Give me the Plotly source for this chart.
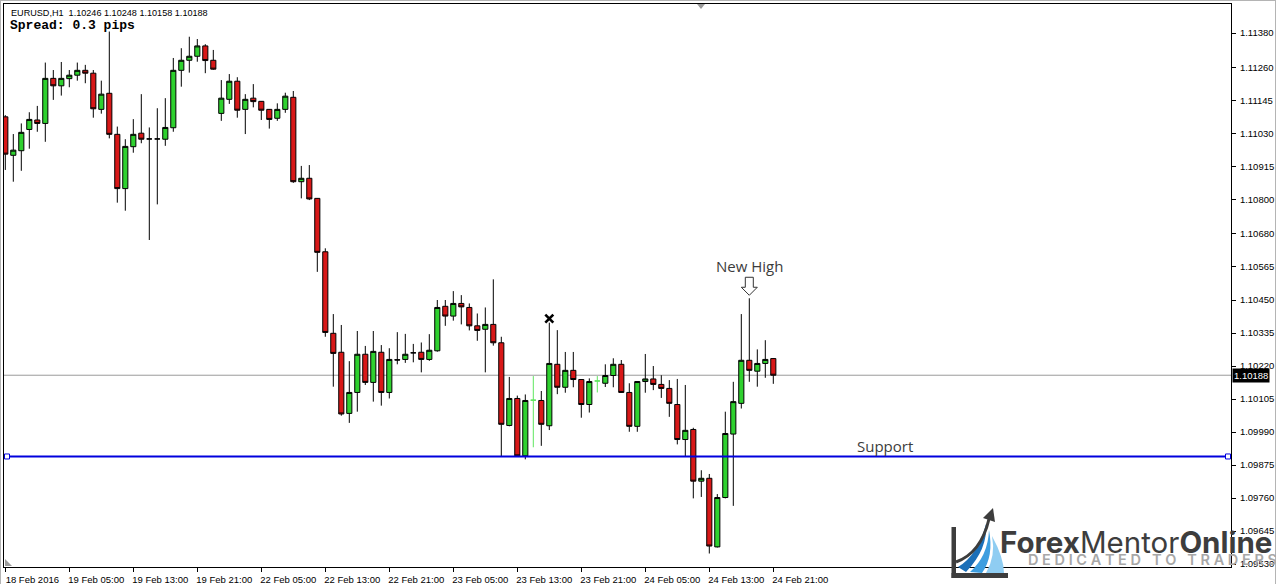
import plotly.graph_objects as go

# ---- EURUSD H1 candles (bar 0 = 18 Feb 2016 21:00) ----
opens = [1.11088, 1.10954, 1.10970, 1.11044, 1.11077, 1.11065, 1.11222, 1.11196, 1.11221, 1.11233,
         1.11250, 1.11240, 1.11114, 1.11170, 1.11027, 1.10838, 1.10984, 1.11031, 1.11011, 1.11011,
         1.11010, 1.11050, 1.11250, 1.11285, 1.11299, 1.11335, 1.11285, 1.11100, 1.11149, 1.11212,
         1.11114, 1.11153, 1.11142, 1.11114, 1.11083, 1.11114, 1.11156, 1.10862, 1.10874, 1.10804,
         1.10618, 1.10334, 1.10268, 1.10055, 1.10128, 1.10261, 1.10163, 1.10268, 1.10128, 1.10242,
         1.10243, 1.10266, 1.10268, 1.10243, 1.10273, 1.10428, 1.10394, 1.10438, 1.10424, 1.10360,
         1.10348, 1.10365, 1.10301, 1.10013, 1.10107, 1.09907, None, 1.10100, 1.10012, 1.10226,
         1.10146, 1.10205, 1.10173, 1.10086, None, 1.10160, 1.10187, 1.10226, 1.10128, 1.10010,
         1.10166, 1.10175, 1.10156, 1.10142, 1.10086, 1.09964, 1.09999, 1.09819, 1.09829, 1.09590,
         1.09762, 1.09983, 1.10090, 1.10240, 1.10202, 1.10229, 1.10246]
highs = [1.11094, 1.11028, 1.11065, 1.11104, 1.11126, 1.11277, 1.11251, 1.11279, 1.11251, 1.11277,
         1.11269, 1.11251, 1.11214, 1.11385, 1.11054, 1.11010, 1.11080, 1.11167, 1.11051, 1.11118,
         1.11153, 1.11293, 1.11327, 1.11367, 1.11359, 1.11341, 1.11321, 1.11216, 1.11237, 1.11226,
         1.11167, 1.11202, 1.11143, 1.11115, 1.11135, 1.11172, 1.11178, 1.10917, 1.10920, 1.10805,
         1.10630, 1.10401, 1.10363, 1.10237, 1.10342, 1.10290, 1.10342, 1.10293, 1.10282, 1.10338,
         1.10332, 1.10297, 1.10302, 1.10331, 1.10450, 1.10450, 1.10481, 1.10467, 1.10438, 1.10403,
         1.10424, 1.10522, 1.10322, 1.10182, 1.10117, 1.10121, None, 1.10133, 1.10371, 1.10345,
         1.10269, 1.10269, 1.10174, 1.10177, None, 1.10226, 1.10247, 1.10241, 1.10160, 1.10167,
         1.10262, 1.10220, 1.10188, 1.10171, 1.10175, 1.10154, 1.10005, 1.09857, 1.09844, 1.09774,
         1.10061, 1.10165, 1.10401, 1.10456, 1.10278, 1.10310, 1.10248]
lows = [1.10903, 1.10862, 1.10900, 1.10977, 1.11036, 1.11001, 1.11147, 1.11162, 1.11191, 1.11214,
        1.11205, 1.11085, 1.11099, 1.11013, 1.10789, 1.10761, 1.10963, 1.10996, 1.10659, 1.10783,
        1.10987, 1.11036, 1.11193, 1.11242, 1.11280, 1.11240, 1.11252, 1.11074, 1.11133, 1.11085,
        1.11028, 1.11121, 1.11077, 1.11047, 1.11074, 1.11102, 1.10858, 1.10804, 1.10798, 1.10548,
        1.10322, 1.10148, 1.10047, 1.10022, 1.10061, 1.10154, 1.10096, 1.10082, 1.10107, 1.10226,
        1.10231, 1.10233, 1.10198, 1.10238, 1.10270, 1.10360, 1.10378, 1.10365, 1.10344, 1.10308,
        1.10198, 1.10291, 1.09905, 1.10010, 1.09904, 1.09895, None, 1.09942, 1.09997, 1.10122,
        1.10127, 1.10146, 1.10040, 1.10058, None, 1.10147, 1.10146, 1.10127, 1.09991, 1.09991,
        1.10127, 1.10136, 1.10109, 1.10043, 1.09947, 1.09904, 1.09759, 1.09764, 1.09567, 1.09588,
        1.09759, 1.09733, 1.10072, 1.10165, 1.10148, 1.10179, 1.10158]
closes = [1.10958, 1.10972, 1.11034, 1.11079, 1.11065, 1.11222, 1.11196, 1.11222, 1.11233, 1.11250,
          1.11240, 1.11116, 1.11167, 1.11027, 1.10838, 1.10985, 1.11027, 1.11010, 1.11011, 1.11011,
          1.11051, 1.11250, 1.11285, 1.11299, 1.11335, 1.11284, 1.11254, 1.11153, 1.11212, 1.11111,
          1.11149, 1.11141, 1.11111, 1.11079, 1.11114, 1.11160, 1.10862, 1.10874, 1.10802, 1.10616,
          1.10337, 1.10264, 1.10053, 1.10128, 1.10261, 1.10163, 1.10271, 1.10128, 1.10243, 1.10241,
          1.10261, 1.10266, 1.10243, 1.10275, 1.10424, 1.10394, 1.10438, 1.10426, 1.10360, 1.10344,
          1.10365, 1.10301, 1.10017, 1.10107, 1.09907, 1.10100, None, 1.10017, 1.10229, 1.10146,
          1.10205, 1.10173, 1.10086, 1.10166, None, 1.10187, 1.10226, 1.10128, 1.10010, 1.10166,
          1.10175, 1.10156, 1.10142, 1.10090, 1.09964, 1.09996, 1.09819, 1.09829, 1.09593, 1.09762,
          1.09985, 1.10096, 1.10240, 1.10205, 1.10229, 1.10243, 1.10188]

# unchanged bars drawn as thin light-green crosses
flat_idx = [66, 74]
flat_price = [1.10101, 1.10168]
flat_high = [1.10185, 1.10185]
flat_low = [1.09937, 1.10128]

time_tick_idx = [0, 8, 16, 24, 32, 40, 48, 56, 64, 72, 80, 88, 96]
time_tick_text = ["18 Feb 2016", "19 Feb 05:00", "19 Feb 13:00", "19 Feb 21:00", "22 Feb 05:00",
                  "22 Feb 13:00", "22 Feb 21:00", "23 Feb 05:00", "23 Feb 13:00", "23 Feb 21:00",
                  "24 Feb 05:00", "24 Feb 13:00", "24 Feb 21:00"]
price_ticks = [1.11380, 1.11260, 1.11145, 1.11030, 1.10915, 1.10800, 1.10680, 1.10565, 1.10450,
               1.10335, 1.10220, 1.10105, 1.09990, 1.09875, 1.09760, 1.09645, 1.09530]

support_level = 1.09905
new_high_bar = 93
cross_bar = 68
header_text = "EURUSD,H1\u00a0\u00a01.10246 1.10248 1.10158 1.10188"
spread_text = "Spread: 0.3 pips"

# ---- geometry ----
FIG_W, FIG_H = 1276, 584
ML, MT, MR, MB = 4, 4, 45, 17
PW, PH = FIG_W - ML - MR, FIG_H - MT - MB
BAR_PX = 8.0
X0 = -1.3 / BAR_PX
X_RANGE = [X0, X0 + PW / BAR_PX]
Y_RANGE = [1.09520, 1.11481]


def px(x):
    return (x - ML) / PW


def py(y):
    return (MT + PH - y) / PH


def paper_path(cmds, close=True):
    out = []
    for c in cmds:
        op, pts = c[0], c[1:]
        coords = []
        for i in range(0, len(pts), 2):
            coords.append(f"{px(pts[i]):.5f},{py(pts[i + 1]):.5f}")
        out.append(op + " " + " ".join(coords))
    return " ".join(out) + (" Z" if close else "")


x_idx = list(range(len(opens)))
GREEN = "#2fd12f"
RED = "#d81818"

fig = go.Figure()
fig.add_trace(go.Candlestick(
    x=x_idx, open=opens, high=highs, low=lows, close=closes,
    increasing=dict(fillcolor=GREEN, line=dict(color="black", width=1)),
    decreasing=dict(fillcolor=RED, line=dict(color="black", width=1)),
    whiskerwidth=0, hoverinfo="skip", showlegend=False,
))
fig.add_trace(go.Candlestick(
    x=flat_idx, open=flat_price, high=flat_high, low=flat_low, close=flat_price,
    increasing=dict(fillcolor="#5ee65e", line=dict(color="#5ee65e", width=1)),
    decreasing=dict(fillcolor="#5ee65e", line=dict(color="#5ee65e", width=1)),
    whiskerwidth=0, hoverinfo="skip", showlegend=False,
))

shapes = []
# last price line
shapes.append(dict(type="line", xref="paper", x0=0, x1=1, yref="y", y0=closes[-1], y1=closes[-1],
                   line=dict(color="#9a9a9a", width=1), layer="below"))
# support line with end handles
sx0, sx1 = px(7), px(1228)
shapes.append(dict(type="line", xref="paper", x0=sx0, x1=sx1, yref="y", y0=support_level, y1=support_level,
                   line=dict(color="#0000dd", width=2)))
for hx in (sx0, sx1):
    shapes.append(dict(type="rect", xref="paper", xsizemode="pixel", xanchor=hx, x0=-2.5, x1=2.5,
                       yref="y", ysizemode="pixel", yanchor=support_level, y0=-2.5, y1=2.5,
                       fillcolor="white", line=dict(color="#0000dd", width=1)))
# hollow down arrow above the new high
shapes.append(dict(type="path", xref="x", xsizemode="pixel", xanchor=new_high_bar,
                   yref="y", ysizemode="pixel", yanchor=highs[new_high_bar],
                   path="M -4 21 L 4 21 L 4 11 L 8 11 L 0 3 L -8 11 L -4 11 Z",
                   fillcolor="white", line=dict(color="#333333", width=1)))
# cross mark above the failed high
shapes.append(dict(type="path", xref="x", xsizemode="pixel", xanchor=cross_bar,
                   yref="y", ysizemode="pixel", yanchor=highs[cross_bar],
                   path="M -4 0 L 4 8 M 4 0 L -4 8",
                   line=dict(color="black", width=2.6)))
# chart shift markers
shapes.append(dict(type="path", xref="paper", yref="paper",
                   path=paper_path([("M", 697, 4), ("L", 705, 4), ("L", 701, 9)]),
                   fillcolor="#9a9a9a", line=dict(width=0)))
shapes.append(dict(type="path", xref="paper", yref="paper",
                   path=paper_path([("M", 5, 559), ("L", 5, 566), ("L", 12, 566)]),
                   fillcolor="#9a9a9a", line=dict(width=0)))
# window edges
for (a, b, c, d) in [(0, 0.5, 1276, 0.5), (0.5, 0, 0.5, 584), (1275.5, 0, 1275.5, 584)]:
    shapes.append(dict(type="line", xref="paper", yref="paper", x0=px(a), y0=py(b), x1=px(c), y1=py(d),
                       line=dict(color="#b4b4b4", width=1)))

# logo graphic
DARK = "#3d3d3d"
shapes.append(dict(type="rect", xref="paper", yref="paper", x0=px(951.5), x1=px(956), y0=py(578), y1=py(527),
                   fillcolor=DARK, line=dict(width=0)))
shapes.append(dict(type="rect", xref="paper", yref="paper", x0=px(951.5), x1=px(1008), y0=py(578), y1=py(573),
                   fillcolor=DARK, line=dict(width=0)))
shapes.append(dict(type="path", xref="paper", yref="paper",
                   path=paper_path([("M", 958, 567), ("Q", 978, 555, 986, 524), ("Q", 988, 549, 966, 572)]),
                   fillcolor="#1b6fb8", line=dict(width=0)))
shapes.append(dict(type="path", xref="paper", yref="paper",
                   path=paper_path([("M", 970, 572), ("Q", 988, 556, 989, 530), ("Q", 994, 556, 982, 573)]),
                   fillcolor="#3d9ee0", line=dict(width=0)))
shapes.append(dict(type="path", xref="paper", yref="paper",
                   path=paper_path([("M", 986, 573), ("Q", 996, 556, 992, 536), ("Q", 1004, 558, 1004, 573)]),
                   fillcolor="#8fcdf2", line=dict(width=0)))
shapes.append(dict(type="path", xref="paper", yref="paper",
                   path=paper_path([("M", 956, 562), ("Q", 981, 553, 989, 519)], close=False),
                   line=dict(color=DARK, width=3)))
shapes.append(dict(type="path", xref="paper", yref="paper",
                   path=paper_path([("M", 983, 518), ("L", 993, 508), ("L", 995, 522)]),
                   fillcolor=DARK, line=dict(width=0)))

AX_FONT = dict(family="Liberation Sans", size=9.5, color="black")
TEXT_FONT = dict(family="Open Sans", size=15, color="#3c3c3c")
NB = "\u00a0"

annotations = [
    dict(text=header_text, xref="paper", yref="paper", x=px(9), y=py(13), xanchor="left", yanchor="middle",
         showarrow=False, font=dict(family="Liberation Sans", size=9.1, color="black")),
    dict(text=spread_text, xref="paper", yref="paper", x=px(8), y=py(25.5), xanchor="left", yanchor="middle",
         showarrow=False, font=dict(family="Liberation Mono", size=13, color="black", weight="bold")),
    dict(text=f"{closes[-1]:.5f}", xref="paper", yref="y", x=1, y=closes[-1], xanchor="left", yanchor="middle",
         xshift=1, showarrow=False, font=dict(family="Liberation Sans", size=9.5, color="white"),
         bgcolor="black", borderpad=1),
    dict(text="New High", xref="x", yref="y", x=new_high_bar, y=highs[new_high_bar], yshift=32,
         showarrow=False, font=TEXT_FONT),
    dict(text="Support", xref="x", yref="y", x=(885 - ML) / BAR_PX + X0, y=support_level, yshift=10,
         showarrow=False, font=TEXT_FONT),
    dict(text="<b>Forex</b>Mentor<b>Online</b>", xref="paper", yref="paper", x=px(998), y=py(542),
         xanchor="left", yanchor="middle", showarrow=False,
         font=dict(family="Inter", size=29.5, color=DARK)),
    dict(text=NB.join("DEDICATED") + NB * 3 + NB.join("TO") + NB * 3 + NB.join("TRADERS"),
         xref="paper", yref="paper", x=px(1026), y=py(559.5), xanchor="left", yanchor="middle",
         showarrow=False, font=dict(family="Inter", size=14.5, color="#a8a8a8", weight=600)),
]

fig.update_layout(
    width=FIG_W, height=FIG_H,
    margin=dict(l=ML, r=MR, t=MT, b=MB, pad=0, autoexpand=False),
    paper_bgcolor="white", plot_bgcolor="white",
    boxgap=0.2, boxgroupgap=0.2,
    shapes=shapes, annotations=annotations,
    showlegend=False,
    xaxis=dict(range=X_RANGE, tickmode="array", tickvals=time_tick_idx, ticktext=time_tick_text,
               ticks="outside", ticklen=4, tickcolor="black", tickwidth=1,
               showline=True, linecolor="black", linewidth=1, mirror=True,
               showgrid=False, zeroline=False, tickfont=AX_FONT, automargin=False,
               ticklabelshift=27, ticklabelstandoff=0, rangeslider=dict(visible=False), fixedrange=True),
    yaxis=dict(range=Y_RANGE, side="right", tickmode="array", tickvals=price_ticks, tickformat=".5f",
               ticks="outside", ticklen=4, tickcolor="black", tickwidth=1,
               showline=True, linecolor="black", linewidth=1, mirror=True, automargin=False,
               showgrid=False, zeroline=False, tickfont=AX_FONT, ticklabelstandoff=2, fixedrange=True),
)

fig.write_html("out.html")
